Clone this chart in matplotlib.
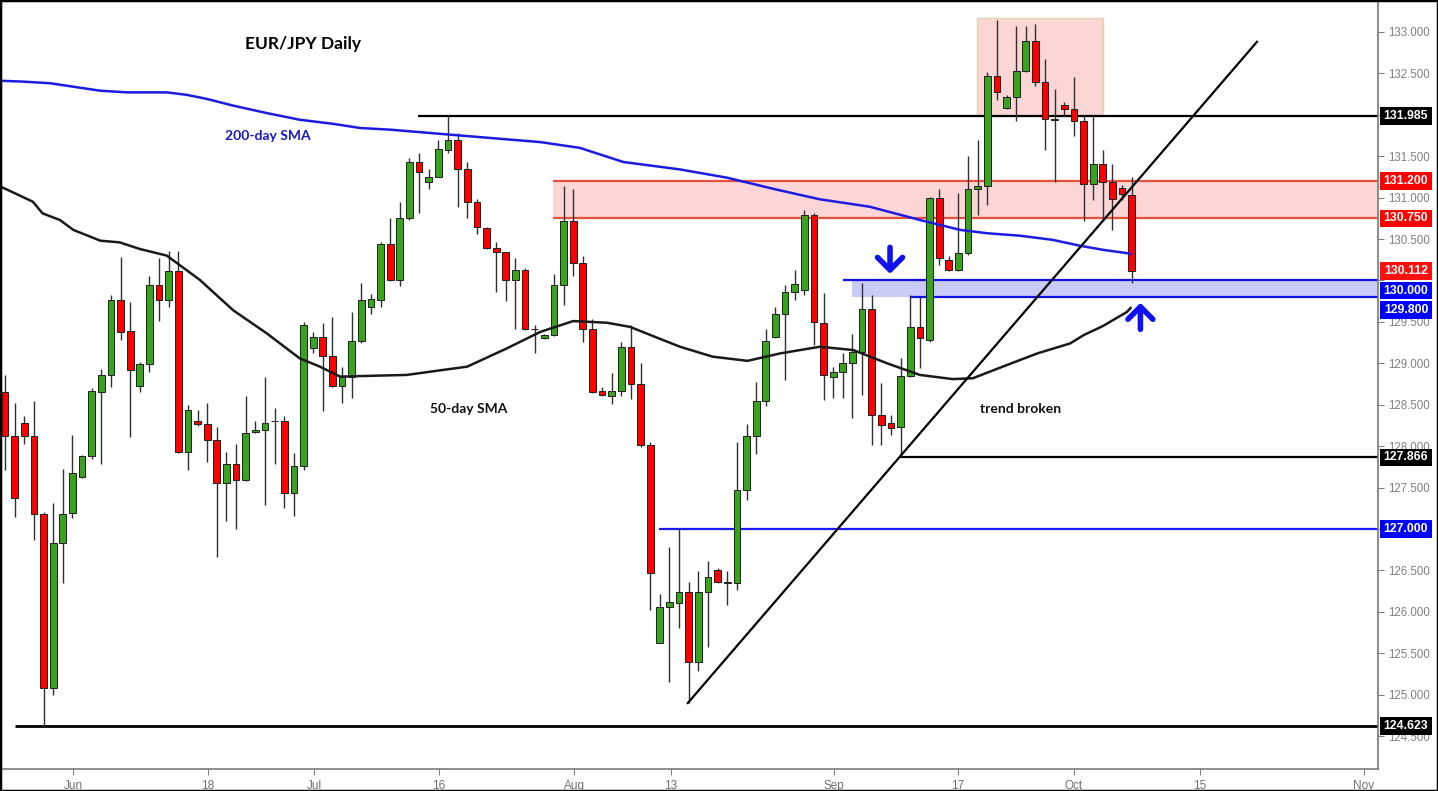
import matplotlib
matplotlib.use('Agg')
import matplotlib.pyplot as plt
import matplotlib.transforms as mtransforms
from matplotlib.patches import Rectangle

# ---------------- data ----------------
opens = [128.65,128.12,128.28,128.12,127.18,125.08,126.83,127.19,127.63,127.88,
         128.66,128.86,129.76,129.39,128.73,128.99,129.95,129.76,130.12,127.93,
         128.30,128.27,128.08,127.56,127.79,127.59,128.17,128.20,128.30,128.30,
         127.44,127.76,129.18,129.32,129.09,128.73,128.84,129.27,129.68,129.77,
         130.44,130.01,130.75,131.43,131.19,131.25,131.58,131.70,131.35,130.95,
         130.63,130.39,130.34,130.01,130.13,129.41,129.30,129.34,129.95,130.72,
         130.21,129.41,128.67,128.60,128.67,129.20,128.75,128.01,125.63,126.06,
         126.11,126.24,125.40,126.24,126.51,126.36,126.35,127.47,128.12,128.54,
         129.32,129.60,129.86,129.89,130.79,129.49,128.83,128.90,129.00,129.14,
         129.66,128.38,128.28,128.23,128.85,129.44,129.28,130.99,130.25,130.13,
         130.33,131.11,131.14,132.47,132.08,132.21,132.53,132.89,132.39,131.95,
         132.12,132.07,131.92,131.17,131.41,131.19,131.12,131.03]
highs = [128.86,128.52,128.36,128.54,127.20,127.32,127.73,128.14,127.89,128.70,
         128.93,129.82,130.28,129.74,129.02,130.06,130.27,130.35,130.35,128.50,
         128.44,128.52,128.23,127.93,128.03,128.60,128.30,128.84,128.46,128.36,
         127.92,129.50,129.38,129.49,129.56,128.96,129.62,129.97,129.84,130.47,
         130.75,130.95,131.48,131.54,131.34,131.70,131.99,131.78,131.43,130.98,
         130.64,130.47,130.34,130.27,130.15,129.46,129.36,130.08,131.14,131.10,
         130.29,129.53,128.71,128.88,129.26,129.46,129.01,128.05,126.22,126.78,
         127.00,126.36,126.49,126.61,126.53,126.49,128.05,128.27,128.78,129.41,
         129.68,129.95,130.13,130.85,130.81,129.85,128.96,129.12,129.36,129.97,
         129.82,128.76,128.38,129.06,129.82,129.80,131.01,131.11,130.29,131.05,
         131.50,131.69,132.52,133.14,132.24,133.07,133.07,133.10,132.67,132.31,
         132.16,132.46,131.99,131.99,131.57,131.41,131.15,131.25]
lows = [127.71,127.15,128.03,126.87,124.62,125.00,126.35,127.13,127.62,127.85,
        127.79,128.72,129.28,128.11,128.65,128.89,129.51,129.68,127.92,127.71,
        128.24,127.81,126.66,127.10,127.00,127.58,128.16,127.29,127.79,127.26,
        127.16,127.71,129.12,128.42,128.72,128.52,128.58,129.25,129.60,129.68,
        129.99,129.93,130.73,130.81,131.10,131.25,131.54,130.89,130.75,130.56,
        130.38,129.86,129.75,129.41,129.40,129.13,129.29,129.33,129.70,130.05,
        129.26,128.64,128.60,128.51,128.60,128.57,127.99,126.02,125.62,125.15,
        125.80,124.90,125.29,125.58,126.35,126.08,126.27,127.35,127.91,128.49,
        129.30,128.80,129.76,129.83,129.22,128.56,128.58,128.58,128.34,128.62,
        128.01,128.01,128.14,127.87,128.84,128.94,129.26,130.19,130.12,130.11,
        130.31,130.79,130.91,132.18,132.07,131.92,132.52,132.35,131.58,131.19,
        131.99,131.74,130.72,130.97,130.72,130.61,130.97,129.97]
closes = [128.12,127.38,128.12,127.18,125.08,126.83,127.18,127.68,127.88,128.67,
          128.86,129.76,129.38,128.92,128.99,129.95,129.76,130.12,127.93,128.44,
          128.27,128.08,127.56,127.79,127.59,128.16,128.20,128.28,128.31,127.44,
          127.76,129.46,129.32,129.09,128.73,128.84,129.27,129.77,129.78,130.44,
          130.01,130.75,131.43,131.31,131.25,131.59,131.70,131.35,130.95,130.65,
          130.39,130.34,130.01,130.13,129.41,129.42,129.34,129.95,130.72,130.21,
          129.41,128.66,128.62,128.67,129.20,128.75,128.01,126.47,126.06,126.12,
          126.24,125.40,126.24,126.42,126.36,126.35,127.47,128.12,128.55,129.27,
          129.60,129.86,129.96,130.79,129.50,128.86,128.90,129.00,129.14,129.66,
          128.38,128.26,128.22,128.85,129.44,129.30,130.99,130.27,130.13,130.33,
          131.11,131.14,132.47,132.27,132.21,132.53,132.89,132.40,131.95,131.94,
          132.07,131.93,131.17,131.41,131.19,130.98,131.04,130.11]

sma200_x = [-0.4, 1.9, 4.7, 9.9, 12.7, 16.8, 18.9, 21.0, 23.7, 27.2, 30.6, 34.1, 36.9,
            40.0, 46.2, 55.6, 59.7, 64.2, 70.1, 75.0, 80.0, 84.6, 89.8, 95.0, 99.2,
            102.0, 105.4, 108.8, 111.6, 114.0, 116.5, 116.9]
sma200 = [132.41, 132.40, 132.38, 132.29, 132.27, 132.27, 132.24, 132.19, 132.11, 132.02,
          131.94, 131.89, 131.84, 131.82, 131.76, 131.67, 131.60, 131.43, 131.34, 131.24,
          131.10, 130.98, 130.89, 130.73, 130.61, 130.57, 130.54, 130.49, 130.42, 130.37,
          130.33, 130.32]
sma50_x = [-0.4, 2.9, 3.9, 5.7, 7.1, 9.9, 11.9, 14.0, 16.8, 20.2, 23.7, 27.2, 30.6, 32.7,
           34.8, 41.7, 48.0, 52.1, 55.6, 59.0, 62.5, 64.9, 67.7, 70.1, 73.5, 77.1, 80.5,
           84.6, 88.1, 91.6, 95.0, 98.4, 100.5, 103.6, 107.2, 110.6, 112.0, 114.0, 116.5,
           116.9]
sma50 = [131.13, 130.95, 130.81, 130.73, 130.61, 130.48, 130.46, 130.38, 130.30, 130.01,
         129.64, 129.36, 129.06, 128.96, 128.84, 128.86, 128.96, 129.18, 129.38, 129.51,
         129.49, 129.44, 129.31, 129.20, 129.08, 129.03, 129.12, 129.20, 129.16, 129.00,
         128.86, 128.81, 128.82, 128.96, 129.12, 129.24, 129.34, 129.45, 129.62, 129.67]

xtick_pos = [7.06, 21.08, 32.09, 45.07, 59.09, 69.16, 86.08, 98.96, 111.0, 124.09, 141.12]
xtick_labels = ['Jun', '18', 'Jul', '16', 'Aug', '13', 'Sep', '17', 'Oct', '15', 'Nov']

level_values = [131.985, 131.200, 130.750, 130.112, 130.000, 129.800, 127.866, 127.000, 124.623]
level_colors = ['#000000', '#ff0000', '#ff0000', '#ff1010', '#0000ff', '#0000ff', '#000000', '#0000ff', '#000000']

# ---------------- figure ----------------
W, H = 1438, 791
fig = plt.figure(figsize=(W / 100, H / 100), dpi=100)
fig.patch.set_facecolor('white')
ax = fig.add_axes([1 / W, 22 / H, 1377 / W, 769 / H])
XMIN, XMAX = -0.415, 142.57
YMIN, YMAX = 124.104, 133.385
ax.set_xlim(XMIN, XMAX)
ax.set_ylim(YMIN, YMAX)
PX_PER_UNIT = 769 / (YMAX - YMIN)

# zones / levels (behind candles)
ax.add_patch(Rectangle((100.9, 131.985), 13.1, 133.17 - 131.985, facecolor='#fcd6d4',
                       edgecolor='#e2d2b0', lw=1.0, zorder=0.5))
ax.add_patch(Rectangle((56.9, 130.75), XMAX - 56.9, 131.2 - 130.75, facecolor='#fcd6d6',
                       edgecolor='none', zorder=0.5))
ax.hlines([131.2, 130.75], 56.9, XMAX, colors='#e8503a', lw=1.6, zorder=0.8)
ax.add_patch(Rectangle((87.96, 129.8), XMAX - 87.96, 0.2, facecolor='#cacaf6',
                       edgecolor='none', zorder=0.5))
ax.hlines(130.0, 87.0, XMAX, colors='#1010e8', lw=1.6, zorder=0.8)
ax.hlines(129.8, 94.0, XMAX, colors='#1010e8', lw=1.6, zorder=0.8)
ax.hlines(131.985, 42.9, XMAX, colors='black', lw=1.6, zorder=0.8)
ax.hlines(127.866, 92.9, XMAX, colors='black', lw=1.6, zorder=0.8)
ax.hlines(127.0, 67.9, XMAX, colors='#1a1aff', lw=1.6, zorder=0.8)
ax.hlines(124.623, 1.04, XMAX, colors='black', lw=2.0, zorder=0.8)

# candles
n = len(opens)
xs = list(range(n))
ax.vlines(xs, lows, highs, colors='#303030', lw=1.0, zorder=2)
bottoms = [min(o, c) for o, c in zip(opens, closes)]
heights = [max(abs(c - o), 0.004) for o, c in zip(opens, closes)]
cols = ['#3aa31e' if c >= o else '#ff0000' for o, c in zip(opens, closes)]
ax.bar(xs, heights, bottom=bottoms, width=0.7, color=cols, edgecolor='#202020',
       linewidth=0.7, zorder=3)

# moving averages
ax.plot(sma200_x, sma200, color='#1c1ce0', lw=1.8, zorder=4, solid_capstyle='round')
ax.plot(sma50_x, sma50, color='#1a1a1a', lw=1.8, zorder=4, solid_capstyle='round')

# trend line
ax.plot([70.9, 130.0], [124.90, 132.88], color='black', lw=1.6, zorder=4)

# arrows
arrow_kw = dict(arrowstyle='->,head_width=0.45,head_length=0.45', lw=4.0,
                color='#1010f0', mutation_scale=20, shrinkA=0, shrinkB=0)
ax.annotate('', xy=(91.9, 130.08), xytext=(91.9, 130.40), arrowprops=arrow_kw, zorder=6)
ax.annotate('', xy=(117.9, 129.73), xytext=(117.9, 129.41), arrowprops=arrow_kw, zorder=6)

# texts
ax.text(24.9, 132.855, 'EUR/JPY Daily', fontsize=12.5, fontweight='bold', family='Lato',
        ha='left', va='center', zorder=6)
ax.text(22.8, 131.74, '200-day SMA', fontsize=10, fontweight='bold', family='Lato',
        color='#1818c8', ha='left', va='center', zorder=6)
ax.text(44.1, 128.45, '50-day SMA', fontsize=10, fontweight='bold', family='Lato',
        color='#111111', ha='left', va='center', zorder=6)
ax.text(101.2, 128.45, 'trend broken', fontsize=10, fontweight='bold', family='Lato',
        color='#111111', ha='left', va='center', zorder=6)

# axes styling
for s in ['left', 'top']:
    ax.spines[s].set_color('black')
    ax.spines[s].set_linewidth(1.5)
for s in ['right', 'bottom']:
    ax.spines[s].set_color('#7a7a7a')
    ax.spines[s].set_linewidth(1.2)

ax.yaxis.tick_right()
yt = [124.5 + 0.5 * i for i in range(18)]
# tick labels fully hidden behind a price box in the reference are left blank
hidden = {132.0, 130.0, 127.0}
ax.set_yticks(yt)
ax.set_yticklabels(['' if v in hidden else '%.3f' % v for v in yt], fontsize=8.3,
                   color='#808080', family='Liberation Sans')
ax.tick_params(axis='y', length=4, color='#808080', pad=3, right=True, left=False)
ax.set_xticks(xtick_pos)
ax.set_xticklabels(xtick_labels, fontsize=8.5, color='#707070', family='Liberation Sans')
ax.tick_params(axis='x', length=4, color='#808080', pad=4)

# price boxes on the right axis (stacked so they do not overlap, as in the reference)
trans = mtransforms.blended_transform_factory(ax.transAxes, ax.transData)
bw = 52 / 1377
bh = 17.5 / PX_PER_UNIT
min_step = 19.5 / PX_PER_UNIT
x0 = 1.0 + 2 / 1377
prev = None
for v, c in zip(level_values, level_colors):
    yc = v if prev is None else min(v, prev - min_step)
    prev = yc
    ax.add_patch(Rectangle((x0, yc - bh / 2), bw, bh, transform=trans, facecolor=c,
                           edgecolor='none', clip_on=False, zorder=7))
    ax.text(x0 + bw / 2, yc, '%.3f' % v, transform=trans, fontsize=8.8, fontweight='bold',
            family='Liberation Sans', color='white', ha='center', va='center',
            clip_on=False, zorder=8)

# outer frame
fig.patches.append(Rectangle((0, 0), 1, 1, transform=fig.transFigure, fill=False,
                             edgecolor='black', lw=2.5))

fig.savefig('out.png', dpi=100)
